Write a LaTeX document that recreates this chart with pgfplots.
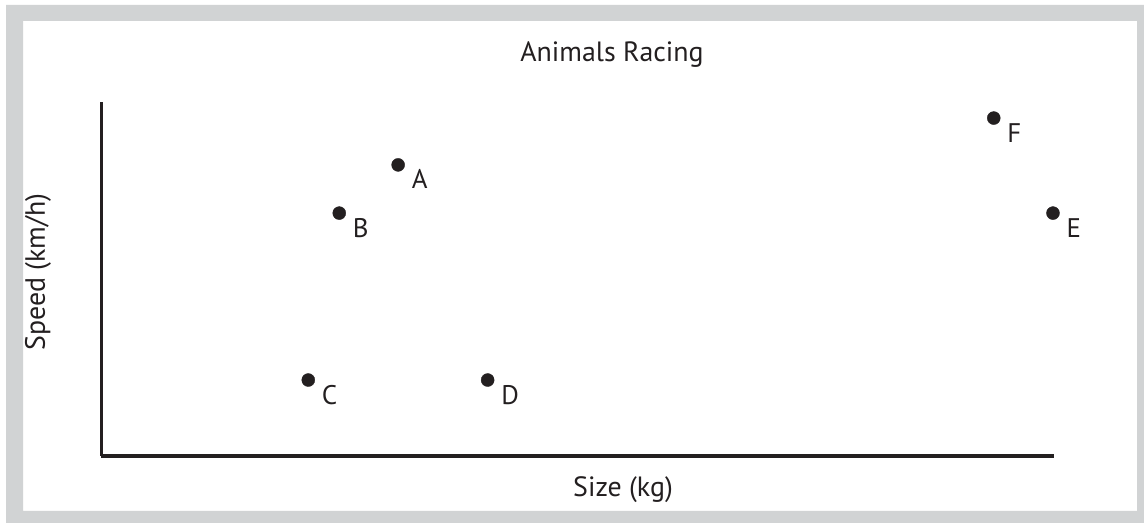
\documentclass[border=0pt]{standalone}
\usepackage{fontspec}
\setmainfont{PT Sans}
\usepackage{pgfplots}
\pgfplotsset{compat=1.18}
\definecolor{framegray}{RGB}{209,211,212}
\definecolor{ink}{RGB}{35,31,32}
\begin{document}
\begin{tikzpicture}
% page and grey frame
\fill[white] (0bp,0bp) rectangle (1144bp,523bp);
\fill[framegray,even odd rule] (6bp,0bp) rectangle (1144bp,518bp) (23bp,12bp) rectangle (1137bp,502bp);
\begin{axis}[
    at={(101bp,67bp)}, anchor=south west,
    scale only axis, width=953bp, height=354bp,
    xmin=0, xmax=28, ymin=0, ymax=13,
    axis x line*=bottom, axis y line*=left,
    axis line style={-, line width=3bp, ink},
    xtick={1,...,27}, ytick={1,...,12},
    xticklabels={}, yticklabels={},
    tick align=inside, major tick length=2.2bp,
    tick style={gray!60, line width=0.7bp},
    clip=false,
    point meta=explicit symbolic,
    nodes near coords,
    nodes near coords style={anchor=base west, inner sep=0pt, xshift=13.5bp, yshift=-24bp,
        font=\fontsize{27}{32}\selectfont, text=ink},
  ]
  \addplot[only marks, mark=*, mark size=6.5bp, ink] coordinates {
    (8.73,10.69) [A]
    (7.0,8.92) [B]
    (6.09,2.79) [C]
    (11.36,2.79) [D]
    (27.97,8.92) [E]
    (26.23,12.41) [F]
  };
\end{axis}
\node[font=\fontsize{28}{32}\selectfont, text=ink] at (612bp,468bp) {Animals Racing};
\node[font=\fontsize{28}{32}\selectfont, text=ink] at (623bp,33bp) {Size (kg)};
\node[font=\fontsize{28}{32}\selectfont, text=ink, rotate=90] at (38bp,251bp) {Speed (km/h)};
\end{tikzpicture}
\end{document}
